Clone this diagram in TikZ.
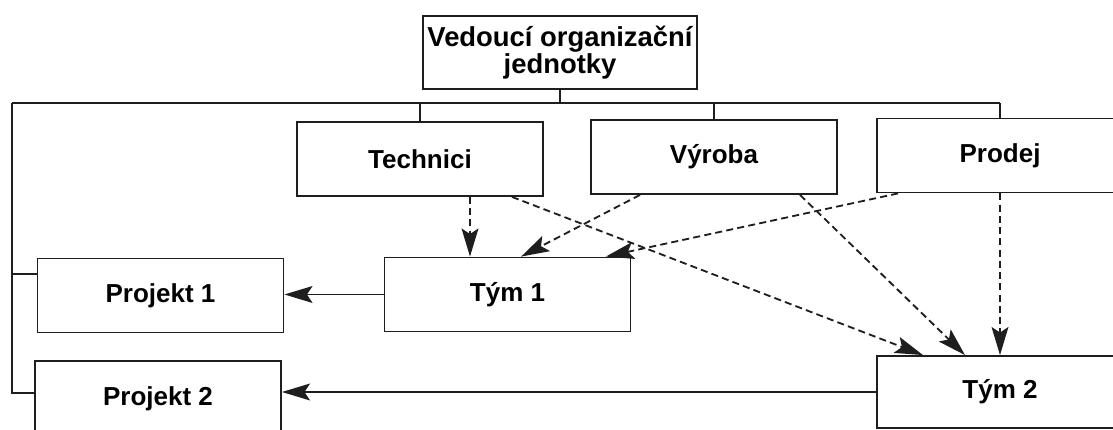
\documentclass[tikz,border=0pt]{standalone}
\usepackage{fontspec}
\setmainfont{Liberation Sans}
\usepackage{tikz}
\usetikzlibrary{arrows.meta}
\definecolor{orgink}{RGB}{30,30,30}
\tikzset{
  obox/.style={draw=orgink,line width=1.3pt,minimum width=6.15cm,minimum height=1.85cm,
               inner sep=2pt,align=center,font=\fontsize{18.5}{20}\selectfont\bfseries},
  otop/.style={obox,minimum width=6.85cm,minimum height=1.825cm,
               font=\fontsize{19.5}{18}\selectfont\bfseries},
  oline/.style={draw=orgink,line width=1.3pt},
  oarrow/.style={oline,-{Stealth[length=20pt,width=12pt,inset=4pt]}},
  odash/.style={oarrow,dash pattern=on 5pt off 3pt},
}

\begin{document}
\begin{tikzpicture}
\useasboundingbox (0,0) rectangle (27.825,-10.75);
\clip (0,0) rectangle (27.825,-10.75);

% ============ top: head of the unit, bus ============
\node[otop] (head) at (14.0,-1.3125) {Vedoucí organizační\\ jednotky};
\coordinate (busl) at (0.3,-2.575);
\coordinate (busr) at (25.0,-2.575);
\draw[oline] (busl) -- (busr);
\draw[oline] (head.south) -- (head.south |- busl);

% ============ departments ============
\node[obox] (tech) at (10.5,-3.975) {Technici};
\node[obox] (vyr) at (17.85,-3.925) {Výroba};
\node[obox] (prod) at (25.0,-3.8875) {Prodej};
\foreach \d in {tech,vyr,prod} { \draw[oline] (\d.north) -- (\d.north |- busl); }

% ============ projects and teams ============
\node[obox] (proj1) at (4.0125,-7.3875) {Projekt 1};
\node[obox] (tym1) at (12.6875,-7.3625) {Tým 1};
\node[obox] (proj2) at (3.95,-9.96) {Projekt 2};
\node[obox,minimum height=1.8cm] (tym2) at (25.0,-9.8) {Tým 2};

% left line from the bus down to both projects
\coordinate (p1in) at (0.3,-6.85);
\coordinate (p2in) at (0.3,-9.825);
\draw[oline] (busl) -- (p2in) -- (p2in -| proj2.west);
\draw[oline] (p1in) -- (p1in -| proj1.west);

% teams work for projects
\draw[oarrow] (tym1.west) -- (tym1.west -| proj1.east);
\draw[oarrow] (tym2.west) -- (tym2.west -| proj2.east);

% ============ people lent to the teams ============
\draw[odash] ([xshift=1.25cm]tech.south) -- ([xshift=1.25cm]tech.south |- tym1.north);
\foreach \s/\a/\t/\b in {tech/2.3/tym2/-1.925, vyr/-1.85/tym1/0.34, vyr/2.15/tym2/-0.875,
                         prod/-2.55/tym1/2.46, prod/0/tym2/0} {
  \draw[odash] ([xshift=\a cm]\s.south) -- ([xshift=\b cm]\t.north);
}
\end{tikzpicture}
\end{document}
